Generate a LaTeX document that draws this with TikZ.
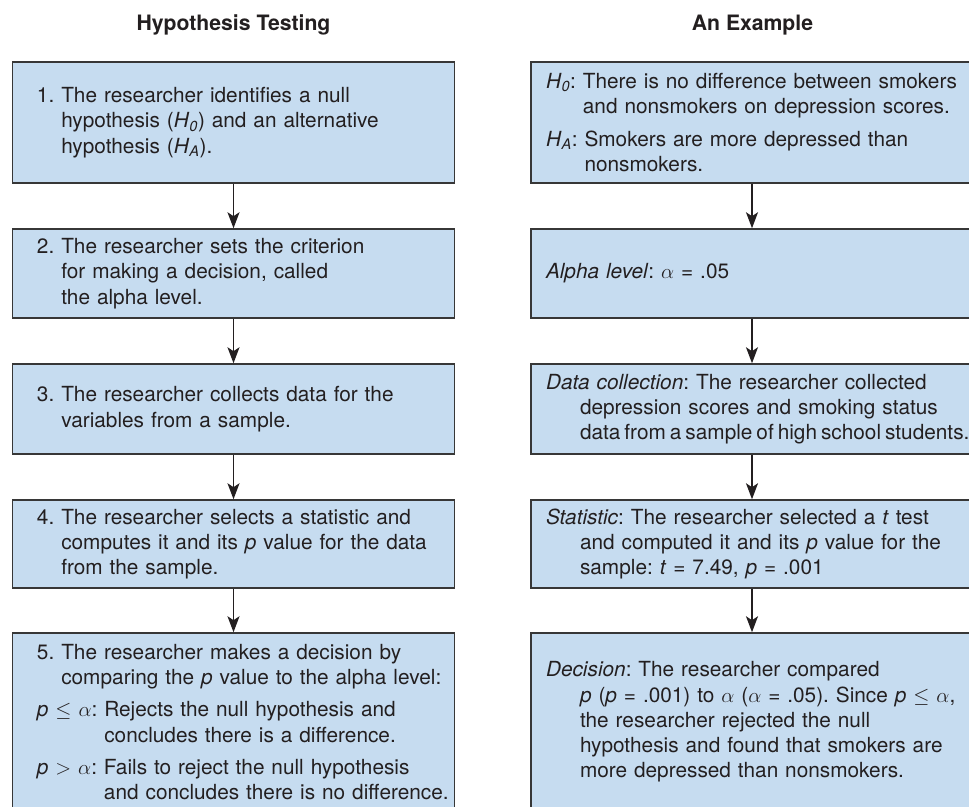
\documentclass[tikz,border=0pt]{standalone}
\usepackage{fontspec}
\setmainfont{TeX Gyre Heros}
\usetikzlibrary{arrows.meta}

\definecolor{boxfill}{RGB}{198,220,240}
\definecolor{boxline}{RGB}{55,55,55}
\definecolor{ink}{RGB}{35,31,32}

% paragraph whose later lines hang under the text after its label
\newcommand\hangitem[2]{\setbox0=\hbox{#1}\hangindent=\wd0 \hangafter=1 \noindent\box0 #2\par}
% paragraph whose later lines hang by a fixed amount
\newcommand\hangby[2]{\hangindent=#1\hangafter=1 \noindent #2\par}
\newcommand\Hsub[1]{\textit{H}\textsubscript{\textit{#1}}}
% a line set with tighter word spaces
\newcommand\tightwords[1]{{\spaceskip=0.19em\relax #1}}

\tikzset{
  x=1pt, y=-1pt,
  boxbase/.style={draw=boxline, fill=boxfill, line width=1.5pt,
    inner xsep=0pt, inner ysep=0pt, text width=442pt, minimum width=442pt,
    font=\fontsize{20.8}{25.3}\selectfont, text=ink},
  stepbox/.style={boxbase, execute at begin node={\frenchspacing\raggedright\setlength{\parskip}{7pt}\leftskip=24.5pt\rightskip=-30pt plus 1fil}},
  examplebox/.style={boxbase, execute at begin node={\frenchspacing\raggedright\setlength{\parskip}{7pt}\leftskip=15pt\rightskip=-30pt plus 1fil}},
  coltitle/.style={font=\fontsize{21.2}{25.3}\selectfont\bfseries, text=ink, inner sep=0pt, anchor=base},
  flowarrow/.style={draw=ink, line width=1.8pt, -{Stealth[length=16pt,width=12pt,inset=4pt]}}
}

\begin{document}
\begin{tikzpicture}
\useasboundingbox (0,0) rectangle (969,806);
\clip (0,0) rectangle (969,806);
\fill[white] (0,0) rectangle (969,806);

% column headings
\node[coltitle] (tleft) at (233.5,30.7) {Hypothesis Testing};
\node[coltitle] (tright) at (752.5,30.7) {An Example};

% left column: the steps
\node[stepbox, minimum height=121pt] (l1) at (233.5,122.5) {%
  \hangitem{1.\ }{The researcher identifies a null\newline hypothesis (\Hsub{0}) and an alternative\newline hypothesis (\Hsub{A}).}};
\node[stepbox, minimum height=89pt] (l2) at (233.5,273.5) {%
  \hangitem{2.\ }{The researcher sets the criterion\newline for making a decision, called\newline the alpha level.}};
\node[stepbox, minimum height=90pt] (l3) at (233.5,409) {%
  \hangitem{3.\ }{The researcher collects data for the\newline variables from a sample.}};
\node[stepbox, minimum height=88pt] (l4) at (233.5,544) {%
  \hangitem{4.\ }{The researcher selects a statistic and\newline computes it and its \textit{p} value for the data\newline from the sample.}};
\node[stepbox, minimum height=178pt] (l5) at (233.5,722) {%
  \hangitem{5.\ }{The researcher makes a decision by\newline comparing the \textit{p} value to the alpha level:}
  \hangitem{\textit{p}~$\leq$~$\alpha$:\ }{Rejects the null hypothesis and\newline concludes there is a difference.}
  \hangitem{\textit{p}~$>$~$\alpha$:\ }{Fails to reject the null hypothesis\newline and concludes there is no difference.}};

% right column: the worked example
\node[examplebox, minimum height=121pt] (r1) at (752,122.5) {%
  \hangitem{\Hsub{0}:\ }{There is no difference between smokers\newline and nonsmokers on depression scores.}
  \hangitem{\Hsub{A}:\ }{Smokers are more depressed than\newline nonsmokers.}};
\node[examplebox, minimum height=89pt] (r2) at (752,273.5) {%
  \hangby{34pt}{\textit{Alpha level}: $\alpha$ = .05}};
\node[examplebox, minimum height=90pt] (r3) at (752,409) {%
  \hangby{34pt}{\textit{Data collection}: The researcher collected\newline depression scores and smoking status\newline \tightwords{data from a sample of high school students.}}};
\node[examplebox, minimum height=88pt] (r4) at (752,544) {%
  \hangby{34pt}{\textit{Statistic}: The researcher selected a \textit{t} test\newline and computed it and its \textit{p} value for the\newline sample: \textit{t} = 7.49, \textit{p} = .001}};
\node[examplebox, minimum height=178pt] (r5) at (752,722) {%
  \hangby{34pt}{\textit{Decision}: The researcher compared\newline \textit{p} (\textit{p} = .001) to $\alpha$ ($\alpha$ = .05). Since \textit{p}~$\leq$~$\alpha$,\newline the researcher rejected the null\newline hypothesis and found that smokers are\newline more depressed than nonsmokers.}};

% connectors
\foreach \a/\b in {l1/l2, l2/l3, l3/l4, l4/l5, r1/r2, r2/r3, r3/r4, r4/r5}
  \draw[flowarrow] (\a.south) -- (\b.north);
\end{tikzpicture}
\end{document}
